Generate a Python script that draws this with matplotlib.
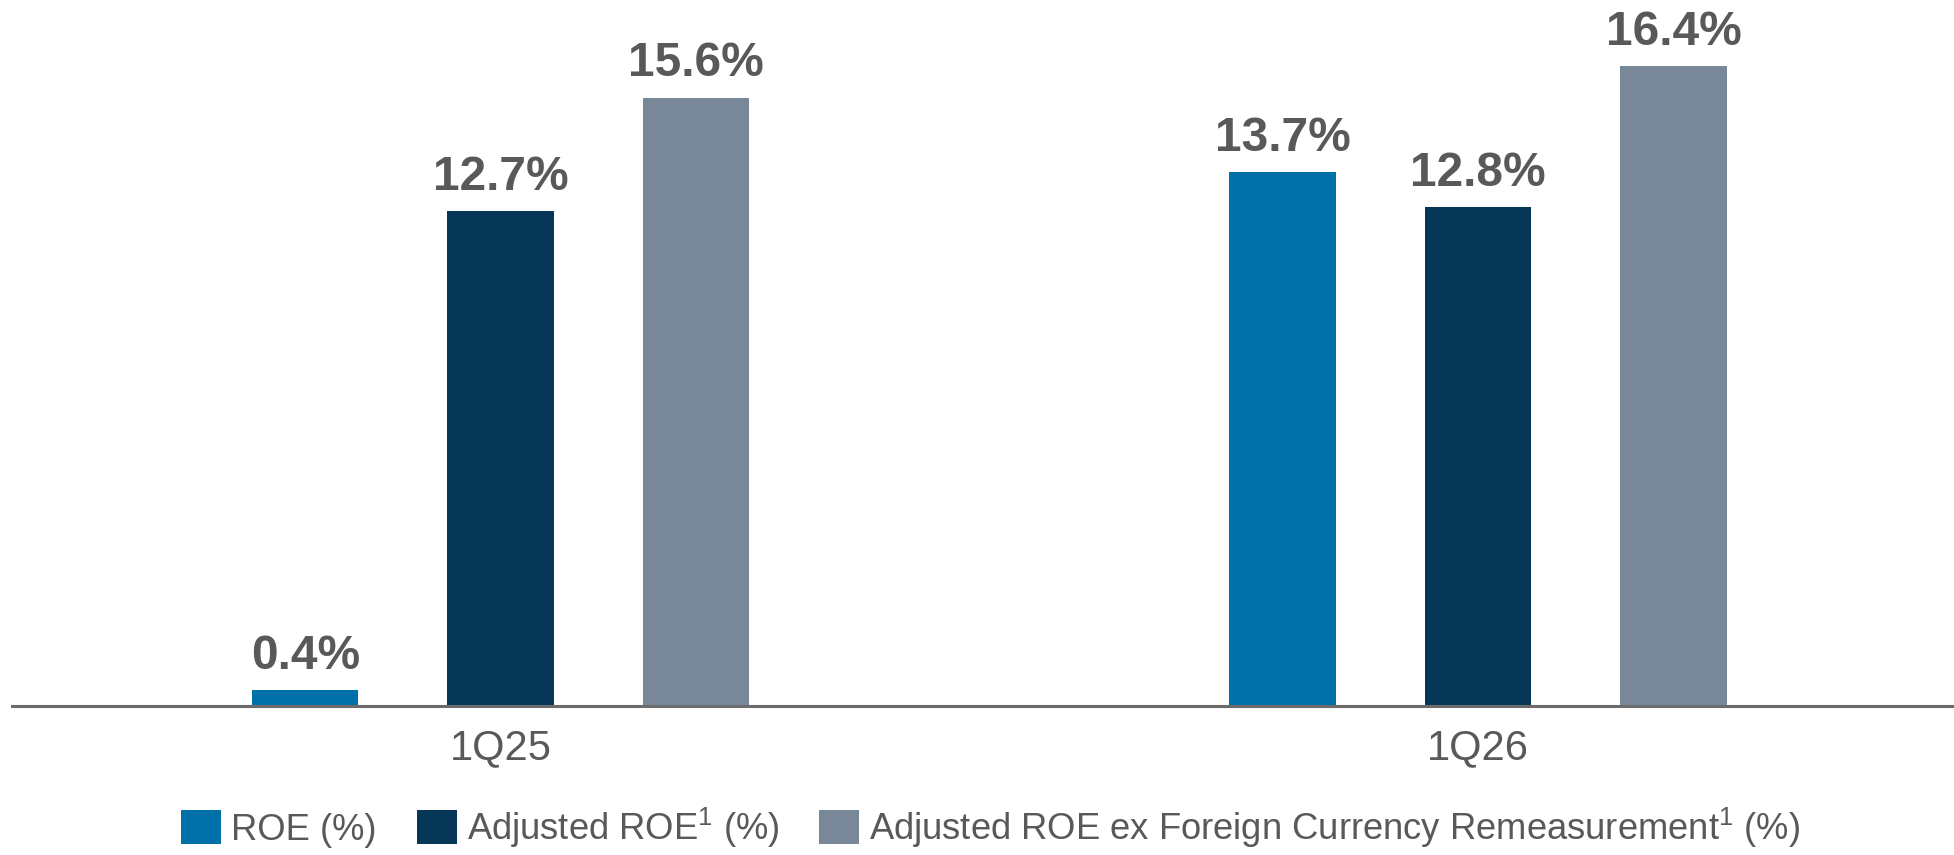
import numpy as np
import matplotlib.pyplot as plt
from matplotlib.patches import Patch

# Data
quarters = ['1Q25', '1Q26']
roe = [0.4, 13.7]
adj_roe = [12.7, 12.8]
adj_roe_ex_fx = [15.6, 16.4]

series_names = ['ROE (%)', 'Adjusted ROE$^{1}$ (%)',
                'Adjusted ROE ex Foreign Currency Remeasurement$^{1}$ (%)']
series_colors = ['#0070A8', '#063757', '#798898']

plt.rcParams['font.family'] = ['Liberation Sans', 'DejaVu Sans']
plt.rcParams['mathtext.fontset'] = 'custom'
plt.rcParams['mathtext.rm'] = 'Liberation Sans'
plt.rcParams['mathtext.it'] = 'Liberation Sans'

text_gray = '#595959'

fig = plt.figure(figsize=(19.54, 8.55), dpi=100)
ax = fig.add_axes([0.00614, 0.1743, 0.99386, 0.8257])

x = np.arange(len(quarters))
offset = 0.2
width = 0.109

for i, (vals, color) in enumerate(zip([roe, adj_roe, adj_roe_ex_fx], series_colors)):
    bars = ax.bar(x + (i - 1) * offset, vals, width, color=color)
    for b, v in zip(bars, vals):
        ax.annotate(f'{v:.1f}%', xy=(b.get_x() + b.get_width() / 2, b.get_height()),
                    xytext=(0, 8), textcoords='offset points',
                    ha='center', va='bottom', fontsize=34.5, fontweight='bold',
                    color=text_gray)

ax.set_xlim(-0.5, 1.487)
ax.set_ylim(0, 18.1)

ax.set_xticks(x)
ax.set_xticklabels(quarters, fontsize=30, color=text_gray)
ax.tick_params(axis='x', length=0, pad=16)
ax.set_yticks([])

for s in ['top', 'right', 'left']:
    ax.spines[s].set_visible(False)
ax.spines['bottom'].set_color('#6b6b6b')
ax.spines['bottom'].set_linewidth(2.2)

handles = [Patch(facecolor=c, edgecolor='none') for c in series_colors]
fig.legend(handles, series_names, loc='center', bbox_to_anchor=(0.507, 0.032),
           ncol=3, frameon=False, fontsize=26.2, labelcolor=text_gray,
           handlelength=1.1, handleheight=1.07, handletextpad=0.28,
           columnspacing=1.1, borderpad=0)

fig.savefig('out.png', dpi=100)
